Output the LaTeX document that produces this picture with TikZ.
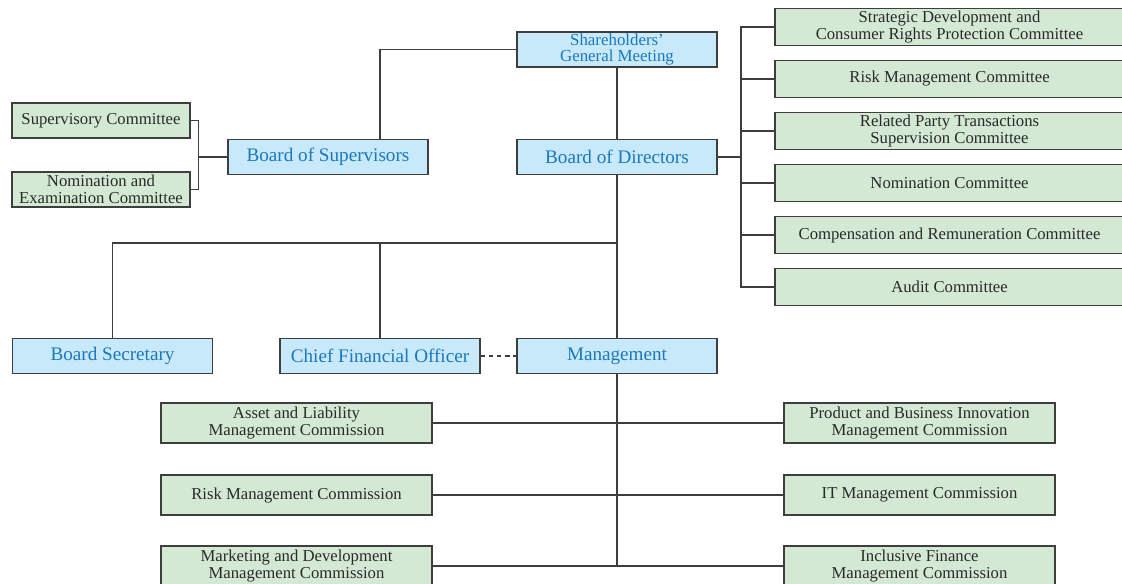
\documentclass[tikz,border=0pt]{standalone}
\usepackage{fontspec}
\setmainfont{Liberation Serif}
\usetikzlibrary{positioning}
\definecolor{leadfill}{HTML}{C8E9F9}
\definecolor{leadtext}{HTML}{1A78BE}
\definecolor{cmtefill}{HTML}{D3E9D4}
\definecolor{cmtetext}{HTML}{2A2A2A}
\definecolor{edgegray}{HTML}{3E3E3E}
\tikzstyle{lead} = [draw=edgegray, fill=leadfill, text=leadtext, line width=0.8pt, minimum width=4cm, minimum height=0.7cm, inner sep=1pt, align=center, font=\fontsize{10.9}{10.9}\selectfont]
\tikzstyle{cmte} = [draw=edgegray, fill=cmtefill, text=cmtetext, line width=0.8pt, minimum height=0.7cm, inner sep=1pt, align=center, font=\fontsize{9.5}{9.5}\selectfont]
\tikzstyle{link} = [draw=edgegray, line width=0.75pt]

\begin{document}
\begin{tikzpicture}[x=0.02cm, y=-0.02cm]
  \useasboundingbox (0,0) rectangle (1122,583);

  % top level
  \node[lead, font=\fontsize{9.6}{9.4}\selectfont] (sgm) at (617,49.5) {Shareholders'\\General Meeting};
  \node[lead] (bod) at (617,157) {Board of Directors};
  \node[lead] (bos) at (328,157) {Board of Supervisors};

  % supervisors' committees
  \node[cmte, minimum width=3.56cm] (supc) at (101,120.5) {Supervisory Committee};
  \node[cmte, minimum width=3.56cm] (nomx) at (101,189.5) {Nomination and\\Examination Committee};

  % board committees
  \node[cmte, minimum width=6.98cm, minimum height=0.74cm] (strc) at (949.5,27) {Strategic Development and\\Consumer Rights Protection Committee};
  \node[cmte, minimum width=6.98cm, minimum height=0.74cm] (riskc) at (949.5,79) {Risk Management Committee};
  \node[cmte, minimum width=6.98cm, minimum height=0.74cm] (rptc) at (949.5,131) {Related Party Transactions\\Supervision Committee};
  \node[cmte, minimum width=6.98cm, minimum height=0.74cm] (nomc) at (949.5,183) {Nomination Committee};
  \node[cmte, minimum width=6.98cm, minimum height=0.74cm] (compc) at (949.5,235) {Compensation and Remuneration Committee};
  \node[cmte, minimum width=6.98cm, minimum height=0.74cm] (audc) at (949.5,287) {Audit Committee};

  % officers
  \node[lead] (bsec) at (112.5,356) {Board Secretary};
  \node[lead] (cfo) at (380,356) {Chief Financial Officer};
  \node[lead] (mgmt) at (617,356) {Management};

  % management commissions
  \node[cmte, minimum width=5.42cm, minimum height=0.8cm] (alm) at (296.5,423) {Asset and Liability\\Management Commission};
  \node[cmte, minimum width=5.42cm, minimum height=0.8cm] (rmc) at (296.5,495) {Risk Management Commission};
  \node[cmte, minimum width=5.42cm, minimum height=0.8cm] (mkt) at (296.5,566) {Marketing and Development\\Management Commission};
  \node[cmte, minimum width=5.42cm, minimum height=0.8cm] (pbi) at (919.5,423) {Product and Business Innovation\\Management Commission};
  \node[cmte, minimum width=5.42cm, minimum height=0.8cm] (itm) at (919.5,495) {IT Management Commission};
  \node[cmte, minimum width=5.42cm, minimum height=0.8cm] (ifm) at (919.5,566) {Inclusive Finance\\Management Commission};

  \coordinate (dspine) at (741,157);
  \coordinate (jct) at (617,243);

  % lines
  \draw[link] (sgm) -- (bod);
  \draw[link] (bos.north -| cfo) |- (sgm.west);
  \draw[link] (supc.east) -- ++(8,0) |- (bos.west);
  \draw[link] (nomx.east) -- ++(8,0) |- (bos.west);
  \draw[link] (bod.east) -- (dspine);
  \foreach \c in {strc, riskc, rptc, nomc, compc, audc}
    \draw[link] (\c.west) -| (dspine);
  \draw[link] (bod) -- (mgmt);
  \draw[link] (bsec.north) |- (jct);
  \draw[link] (cfo.north) |- (jct);
  \draw[link, dashed, dash pattern=on 2.6pt off 2pt] (cfo) -- (mgmt);
  \draw[link] (mgmt) -- (mgmt |- mkt);
  \draw[link] (alm) -- (pbi);
  \draw[link] (rmc) -- (itm);
  \draw[link] (mkt) -- (ifm);
\end{tikzpicture}
\end{document}
